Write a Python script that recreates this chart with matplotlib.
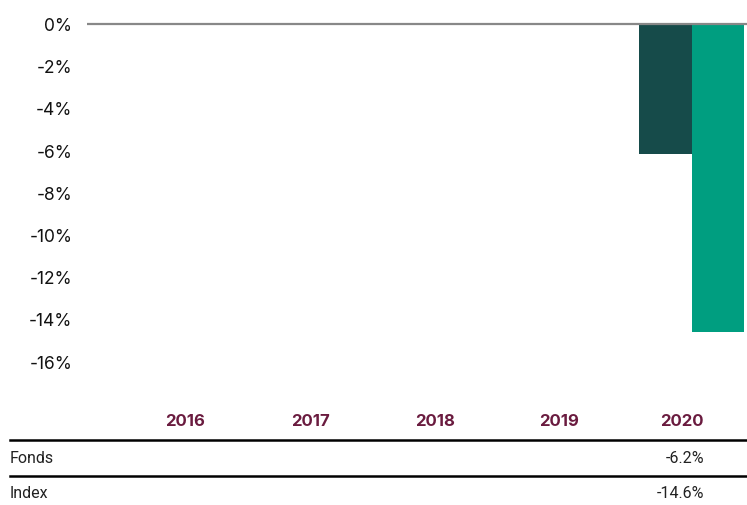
import matplotlib
matplotlib.use("Agg")
import matplotlib.pyplot as plt

years = ["2016", "2017", "2018", "2019", "2020"]
fonds = [None, None, None, None, -6.2]
index = [None, None, None, None, -14.6]
fonds_labels = ["", "", "", "", "-6.2%"]
index_labels = ["", "", "", "", "-14.6%"]
yticks = [0, -2, -4, -6, -8, -10, -12, -14, -16]

W, H = 747, 506
dark = "#164b4a"
green = "#009e80"
maroon = "#6a1b3f"

plt.rcParams['font.family'] = ['Inter', 'DejaVu Sans']

fig = plt.figure(figsize=(W / 100, H / 100), dpi=100)

# axes placed in pixel units: x 87..747, zero line at y=24.5, 21.1 px per %
px_per = 21.1
ytop, ybot = 0.7, -16.8
ax_top = 24.5 - ytop * px_per
ax_h = (ytop - ybot) * px_per
ax = fig.add_axes([87 / W, 1 - (ax_top + ax_h) / H, 660 / W, ax_h / H])

step = 124.0
xl = 4 - (691.5 - 87) / step
xr = 4 + (747 - 691.5) / step
bw = 52.5 / step

for i in range(len(years)):
    if fonds[i] is not None:
        ax.bar(i - bw / 2, fonds[i], width=bw, color=dark, zorder=2)
    if index[i] is not None:
        ax.bar(i + bw / 2, index[i], width=bw, color=green, zorder=2)

ax.axhline(0, color="#888888", linewidth=1.6, zorder=3)
ax.set_xlim(xl, xr)
ax.set_ylim(ybot, ytop)
ax.set_yticks(yticks)
ax.set_yticklabels([f"{t}%" for t in yticks], fontsize=12.5, color="#111111")
ax.tick_params(axis="y", length=0, pad=10.5)
ax.set_xticks([])
for s in ax.spines.values():
    s.set_visible(False)


def fx(x):
    return x / W


def fy(y):
    return 1 - y / H


# table under the chart
for i, yr in enumerate(years):
    xr_ = 205 + i * 124.75
    fig.text(fx(xr_), fy(422), yr, ha="right", va="center", fontsize=12,
             fontweight="bold", color=maroon)
    fig.text(fx(xr_), fy(459), fonds_labels[i], ha="right", va="center",
             fontsize=11.5, color="#222222", family="Roboto")
    fig.text(fx(xr_), fy(494), index_labels[i], ha="right", va="center",
             fontsize=11.5, color="#222222", family="Roboto")

fig.text(fx(10), fy(459), "Fonds", ha="left", va="center", fontsize=11.5,
         color="#222222", family="Roboto")
fig.text(fx(10), fy(494), "Index", ha="left", va="center", fontsize=11.5,
         color="#222222", family="Roboto")

for yy in [441, 477]:
    fig.add_artist(plt.Line2D([fx(10), fx(747)], [fy(yy), fy(yy)],
                              color="black", linewidth=1.8))

fig.savefig("out.png", dpi=100)
